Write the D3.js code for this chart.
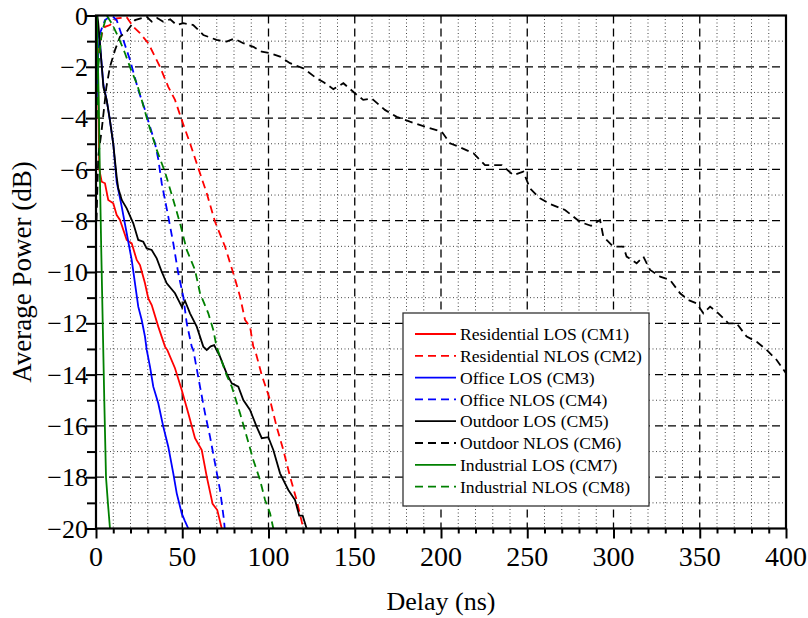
<!DOCTYPE html>
<html>
<head>
<meta charset="utf-8">
<script src="https://cdn.jsdelivr.net/npm/d3@7/dist/d3.min.js"></script>
<style>
  body { margin: 0; background: #fff; }
  text { font-family: "Liberation Serif", "Times New Roman", "DejaVu Serif", serif; fill: #000; }
</style>
</head>
<body>
<div id="chart"></div>
<script>
// average power delay profiles, [delay ns, power dB]
const cm1 = [[0,-2],[0.5,0],[1,-2],[1.5,-4],[1.9,-6.0],[3.3,-6.48],[5.2,-6.54],[7.1,-7.19],[10,-7.32],[12,-7.78],[13.9,-7.97],[17.8,-8.75],[20.7,-8.88],[23.6,-9.53],[25.5,-9.73],[28.4,-10.44],[30.3,-11.03],[32.3,-11.29],[36.1,-12.13],[40,-12.91],[41.3,-13.04],[45.8,-13.75],[49.7,-14.6],[53.5,-15.51],[57.4,-16.48],[61.3,-16.94],[64.2,-17.98],[67.6,-19.04],[70.3,-19.28],[72.9,-20]];
const cm2 = [[0.3,-4],[1,-2],[2,-1.2],[3.5,-0.7],[5.2,-0.44],[8.1,-0.37],[12,-0.11],[17.8,-0.07],[21.6,-0.44],[25.5,-0.69],[30.3,-1.08],[37.1,-2.0],[41.9,-2.78],[45.8,-3.29],[49.7,-4.07],[54.5,-4.98],[60.3,-6.15],[64.2,-6.93],[69,-8.04],[74.8,-9.01],[79.6,-10.05],[83.5,-10.96],[86.4,-11.87],[89.3,-12.13],[91.2,-12.91],[92.2,-13.04],[96.1,-14.02],[100.9,-14.99],[104.7,-16.03],[108.6,-16.94],[112.5,-17.98],[116.3,-18.89],[120.2,-20]];
const cm3 = [[0.5,0],[1.2,-0.6],[2.3,-1.1],[4.3,-2.7],[6.2,-3.3],[8.1,-4.1],[10,-5.0],[12,-6.5],[14.9,-7.45],[17.8,-8.49],[20.7,-9.53],[22.6,-10.44],[24.5,-11.35],[26.5,-11.87],[28.4,-12.52],[29.4,-13.04],[31.3,-13.69],[33.2,-14.47],[36.1,-15.12],[39,-16.03],[41.9,-16.81],[44.8,-17.85],[46.8,-18.63],[49.7,-19.41],[51.5,-19.7],[53.5,-20]];
const cm4 = [[0.4,-3.3],[1.3,-1.5],[2.3,-0.69],[5.2,-0.18],[9.1,0],[12,-0.18],[15.8,-0.95],[19.7,-1.73],[24.5,-2.9],[28.4,-3.68],[31.3,-4.33],[34.2,-4.98],[36.1,-5.6],[38.1,-6.54],[41.9,-7.84],[44.8,-8.88],[47.7,-10.05],[50.6,-10.96],[52.6,-12.0],[55.5,-12.91],[56.4,-13.04],[60.3,-14.47],[63.2,-15.51],[66.1,-16.42],[69,-17.46],[71.9,-18.5],[74.2,-19.67],[74.6,-20]];
const cm5 = [[0,-3],[0.8,0],[1.3,-0.3],[2.3,-1.1],[4.3,-2.8],[6.2,-3.3],[8.1,-4.1],[10,-5.0],[12,-6.3],[12.9,-6.74],[15,-7.2],[17.8,-7.52],[21.6,-8.1],[24.5,-8.75],[27.4,-8.82],[29.4,-9.08],[32.3,-9.14],[35.2,-9.47],[38.1,-9.99],[41,-10.44],[45.8,-10.83],[49.7,-11.35],[51.6,-11.12],[54.5,-11.61],[58.4,-12.13],[62.2,-12.91],[64.2,-13.04],[66.5,-12.9],[68.5,-12.85],[70,-13.05],[71.9,-13.3],[75.7,-13.95],[78.7,-14.34],[82.5,-14.47],[85.4,-14.99],[89.3,-15.38],[93.1,-16.03],[96.1,-16.48],[99.9,-16.44],[102.8,-16.94],[106.7,-17.85],[111.5,-18.5],[115.4,-18.89],[117.8,-19.5],[119.8,-19.5],[122.1,-20]];
const cm6 = [[0.3,-8],[1.3,-5.5],[3.3,-4.46],[6,-2.8],[8.1,-2.0],[11,-1.35],[13.9,-0.83],[17.8,-0.63],[22.6,-0.18],[29.4,-0.05],[32.3,-0.24],[35.5,-0.1],[39,-0.24],[43,-0.15],[46.8,-0.37],[50.6,-0.3],[56.4,-0.37],[62.2,-0.76],[69.9,-0.95],[75.7,-1.02],[80,-0.9],[85.4,-1.08],[91.2,-1.22],[96.1,-1.41],[100.9,-1.47],[106.7,-1.6],[112.5,-1.86],[120.2,-2.06],[127.9,-2.45],[132,-2.6],[137.6,-2.87],[143.4,-2.64],[150.1,-3.03],[154.9,-3.29],[159.8,-3.23],[167.5,-3.68],[174.3,-3.95],[182,-4.14],[190.7,-4.33],[200.4,-4.53],[205.2,-4.98],[210.1,-5.11],[218.8,-5.37],[225.5,-5.83],[235.2,-5.83],[241.9,-6.22],[247.7,-6.09],[251.6,-6.74],[257.4,-7.13],[263.2,-7.35],[271.9,-7.58],[280.6,-8.05],[287,-8.2],[292.2,-7.97],[294.1,-8.62],[299.9,-9.01],[305.7,-9.01],[307.6,-9.4],[313.4,-9.66],[317.3,-9.4],[321.2,-9.92],[327,-10.18],[332.8,-10.31],[338.6,-10.83],[343.4,-11.09],[348.2,-11.22],[352.1,-11.61],[356,-11.35],[360.8,-11.61],[366.6,-12.0],[371.4,-12.0],[377.2,-12.52],[383,-12.72],[388.8,-13.04],[394.6,-13.43],[400,-13.95]];
const cm7 = [[0.5,0],[1.5,-3],[2.2,-6],[3,-9],[3.9,-12],[4.8,-15],[5.8,-18],[6.9,-19],[8.1,-20]];
const cm8 = [[0.5,-4],[1.3,-2.0],[3.3,-0.69],[6.2,0],[9.1,-0.3],[12.9,-0.83],[16.8,-1.47],[20.7,-2.19],[23.6,-2.64],[26.5,-3.29],[30.3,-4.2],[35.2,-5.24],[40,-6.1],[44.8,-7.19],[48.7,-8.1],[52.6,-9.14],[57.4,-9.92],[60.3,-10.83],[65.1,-11.61],[68,-12.26],[69.9,-12.91],[71.9,-13.3],[75.7,-14.02],[78.7,-14.47],[83.5,-15.51],[87.4,-16.42],[91.2,-17.33],[95.1,-18.11],[98,-18.89],[100.9,-19.41],[102.8,-20]];

const seriesNames = ['Residential LOS (CM1)', 'Residential NLOS (CM2)', 'Office LOS (CM3)', 'Office NLOS (CM4)',
                     'Outdoor LOS (CM5)', 'Outdoor NLOS (CM6)', 'Industrial LOS (CM7)', 'Industrial NLOS (CM8)'];
const seriesData = [cm1, cm2, cm3, cm4, cm5, cm6, cm7, cm8];
const xTicks = [0, 50, 100, 150, 200, 250, 300, 350, 400];
const yTicks = [0, -2, -4, -6, -8, -10, -12, -14, -16, -18, -20];

let width = 808,
    height = 618,
    margin = { top: 15.5, right: 22, bottom: 89.5, left: 96 },
    w = width - margin.left - margin.right,
    h = height - margin.top - margin.bottom,
    colors = ['#ff0000', '#ff0000', '#0000ff', '#0000ff', '#000000', '#000000', '#008000', '#008000'],
    dashed = [false, true, false, true, false, true, false, true],
    svg, g, x, y, line;

x = d3.scaleLinear().domain([0, 400]).range([0, w]);
y = d3.scaleLinear().domain([-20, 0]).range([h, 0]);

svg = d3.select('#chart').append('svg')
    .attr('width', width)
    .attr('height', height);

g = svg.append('g')
    .attr('transform', `translate(${margin.left}, ${margin.top})`);

// grid: dotted minor lines, dashed major lines
let xMinor = d3.range(10, 400, 10).filter(v => v % 50 !== 0),
    xMajor = d3.range(50, 400, 50),
    yMinor = d3.range(-19, 0, 2),
    yMajor = d3.range(-18, 0, 2);

g.selectAll('.vminor').data(xMinor).enter().append('line')
    .attr('x1', d => x(d)).attr('x2', d => x(d))
    .attr('y1', 0).attr('y2', h)
    .attr('stroke', '#444').attr('stroke-width', 1).attr('stroke-dasharray', '1,2.5');
g.selectAll('.hminor').data(yMinor).enter().append('line')
    .attr('x1', 0).attr('x2', w)
    .attr('y1', d => y(d)).attr('y2', d => y(d))
    .attr('stroke', '#444').attr('stroke-width', 1).attr('stroke-dasharray', '1,2.5');
g.selectAll('.vmajor').data(xMajor).enter().append('line')
    .attr('x1', d => x(d)).attr('x2', d => x(d))
    .attr('y1', 0).attr('y2', h)
    .attr('stroke', '#000').attr('stroke-width', 1.3).attr('stroke-dasharray', '8,5');
g.selectAll('.hmajor').data(yMajor).enter().append('line')
    .attr('x1', 0).attr('x2', w)
    .attr('y1', d => y(d)).attr('y2', d => y(d))
    .attr('stroke', '#000').attr('stroke-width', 1.3).attr('stroke-dasharray', '8,5');

// curves
line = d3.line()
    .x(d => x(d[0]))
    .y(d => y(d[1]));

g.append('defs').append('clipPath').attr('id', 'clip')
    .append('rect').attr('x', 0).attr('y', -1).attr('width', w).attr('height', h + 1);

g.append('g').attr('clip-path', 'url(#clip)')
    .selectAll('path')
    .data(seriesData)
    .enter()
    .append('path')
    .attr('d', line)
    .attr('fill', 'none')
    .attr('stroke', (d, i) => colors[i])
    .attr('stroke-width', 1.8)
    .attr('stroke-dasharray', (d, i) => dashed[i] ? '8,5' : null);

// axes (ticks only, labels drawn below)
let xAxis = g.append('g')
    .attr('transform', `translate(0, ${h})`)
    .call(d3.axisBottom(x).tickValues(d3.range(0, 401, 10)).tickSize(5).tickFormat(''));
xAxis.selectAll('.tick line')
    .attr('y2', d => d % 50 === 0 ? 10 : 5)
    .attr('stroke-width', 2);
xAxis.select('.domain').remove();

g.selectAll('.xlabel').data(xTicks).enter().append('text')
    .attr('x', d => x(d))
    .attr('y', h + 37)
    .attr('text-anchor', 'middle')
    .style('font-size', '28px')
    .text(d => d);

let yAxis = g.append('g')
    .call(d3.axisLeft(y).tickValues(d3.range(-20, 1, 1)).tickSize(9).tickFormat(''));
yAxis.selectAll('.tick line')
    .attr('x2', d => d % 2 === 0 ? -10 : -9)
    .attr('stroke-width', 2);
yAxis.select('.domain').remove();

let fmtY = d3.format('');   // d3 default format gives the real minus sign
g.selectAll('.ylabel').data(yTicks).enter().append('text')
    .attr('x', -8)
    .attr('y', d => y(d))
    .attr('dy', '0.35em')
    .attr('text-anchor', 'end')
    .style('font-size', '26px')
    .text(d => d === 0 ? '0' : fmtY(d));

// frame
g.append('rect')
    .attr('x', 0).attr('y', 0)
    .attr('width', w).attr('height', h)
    .attr('fill', 'none')
    .attr('stroke', '#000')
    .attr('stroke-width', 2.2);

// titles
svg.append('text')
    .attr('x', margin.left + w / 2)
    .attr('y', 610)
    .attr('text-anchor', 'middle')
    .style('font-size', '26px')
    .text('Delay (ns)');

svg.append('text')
    .attr('transform', `translate(31, ${margin.top + h / 2}) rotate(-90)`)
    .attr('text-anchor', 'middle')
    .style('font-size', '27px')
    .text('Average Power (dB)');

// legend
let legend = svg.append('g').attr('transform', 'translate(403, 313)');
legend.append('rect')
    .attr('width', 246).attr('height', 193)
    .attr('fill', '#fff')
    .attr('stroke', '#333')
    .attr('stroke-width', 1.3);

let items = legend.selectAll('.item')
    .data(seriesNames)
    .enter()
    .append('g')
    .attr('transform', (d, i) => `translate(0, ${21 + i * 21.8})`);

items.append('line')
    .attr('x1', 12).attr('x2', 53)
    .attr('stroke', (d, i) => colors[i])
    .attr('stroke-width', 1.8)
    .attr('stroke-dasharray', (d, i) => dashed[i] ? '8,5' : null);

items.append('text')
    .attr('x', 57)
    .attr('dy', '0.35em')
    .style('font-size', '17.6px')
    .text(d => d);
</script>
</body>
</html>
